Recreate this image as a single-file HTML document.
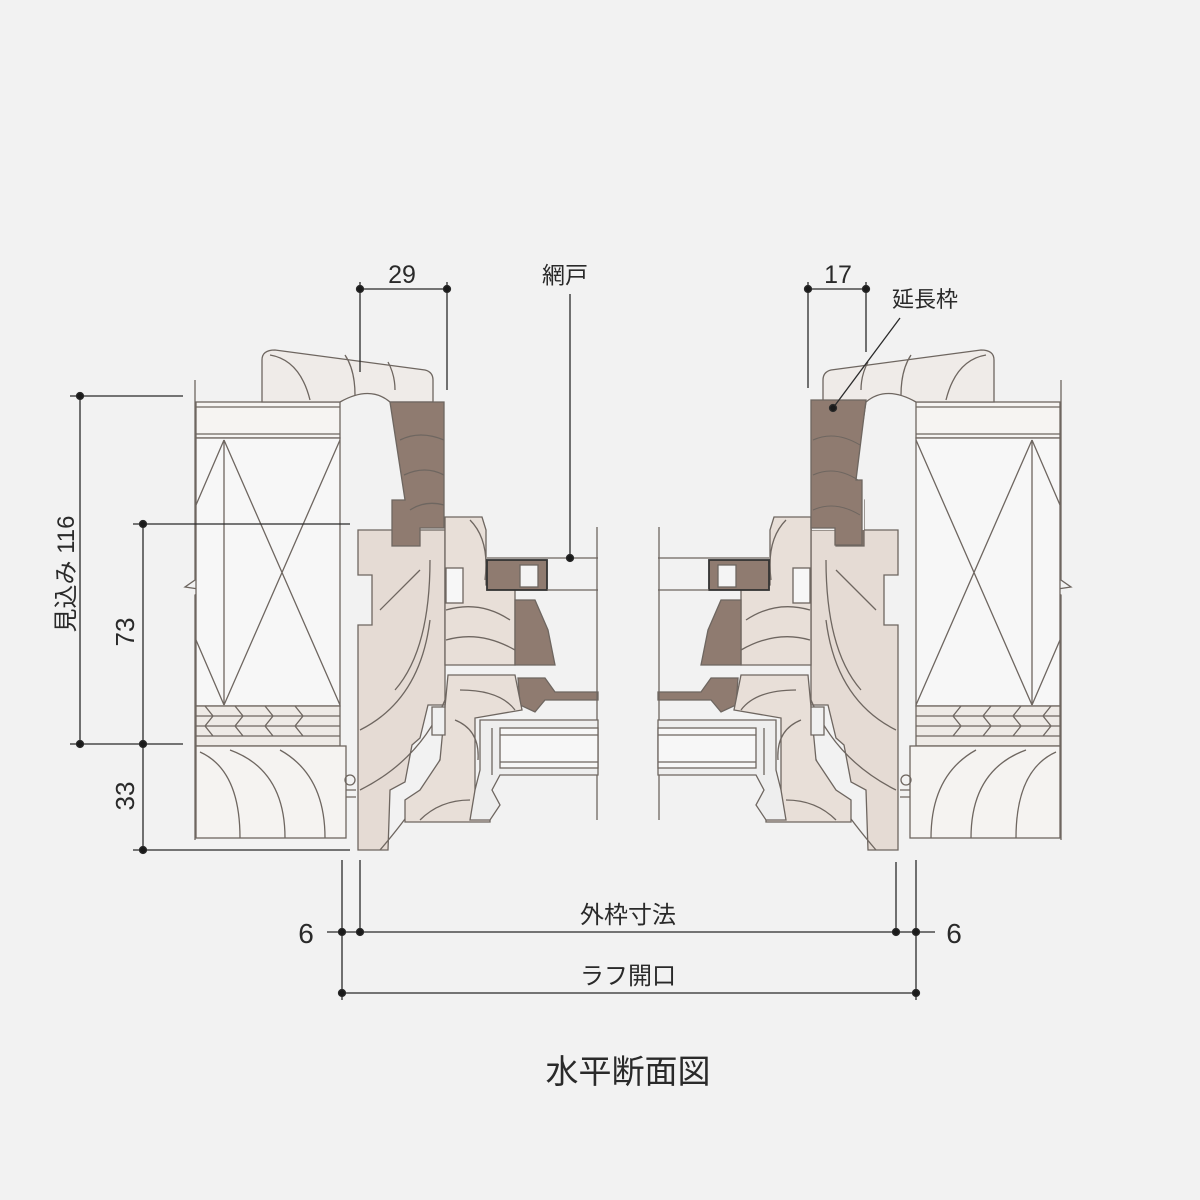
<!DOCTYPE html>
<html><head><meta charset="utf-8"><style>
html,body{margin:0;padding:0;background:#f2f2f2}
svg{display:block}
text{font-family:"Liberation Sans","Noto Sans CJK JP",sans-serif;fill:#2a2a2a}
</style></head><body>
<svg width="1200" height="1200" viewBox="0 0 1200 1200" xmlns="http://www.w3.org/2000/svg">
<rect width="1200" height="1200" fill="#f2f2f2"/>
<defs>
<g id="side" stroke="#6e6660" stroke-width="1.3" fill="none">
  <path d="M195 380 V580 L185 587 L205 590 L195 595 V840"/>
  <rect x="196" y="402" width="144" height="36" fill="#f6f4f2"/>
  <line x1="196" y1="407" x2="340" y2="407"/><line x1="196" y1="434" x2="340" y2="434"/>
  <rect x="196" y="438" width="144" height="268" fill="#f7f7f7"/>
  <line x1="224" y1="440" x2="224" y2="705"/>
  <path d="M224 440 L340 705 M340 440 L224 705 M224 440 L196 505 M224 705 L196 640"/>
  <rect x="196" y="706" width="144" height="40" fill="#eeeae6"/>
  <path d="M196 716H340M196 726H340M196 736H340M205 706l8 10-8 10 8 10M235 706l8 10-8 10 8 10M265 706l8 10-8 10 8 10M295 706l8 10-8 10 8 10"/>
  <rect x="196" y="746" width="150" height="92" fill="#f5f3f1"/>
  <path d="M240 838 Q240 770 200 752 M285 838 Q285 770 230 750 M325 838 Q325 775 280 750"/>
  <path d="M262 402 V360 Q262 350 275 350 L425 370 Q433 372 433 380 V402 H390 Q370 385 340 402 Z" fill="#efebe8"/>
  <path d="M310 400 Q300 360 270 355 M355 395 Q355 370 345 355 M395 390 Q395 375 388 362"/>
  <path d="M358 530 H445 V705 H428 L420 738 L412 745 L405 782 L390 790 L388 850 H358 V625 H372 V575 H358 Z" fill="#e5dbd4"/>
  <path d="M380 850 Q440 780 445 740 M360 790 Q420 760 445 700 M360 730 Q420 700 430 620 M380 610 Q400 590 420 570 M395 690 Q430 650 430 560"/>
  <path d="M390 402 H444 V528 H420 V546 H392 V500 H405 Z" fill="#8f7b70"/>
  <path d="M400 440 Q420 430 444 440 M404 475 Q425 465 444 475 M410 510 Q425 500 444 505"/>
  <path d="M445 517 H482 L486 530 V585 H515 V665 H445 Z" fill="#e8dfd8"/>
  <rect x="446" y="568" width="17" height="35" fill="#f7f7f7"/>
  <path d="M446 640 Q480 630 515 650 M446 610 Q480 600 510 620 M470 520 Q490 540 485 580"/>
  <path d="M515 600 H535 L548 630 L555 665 H515 Z" fill="#8f7b70"/>
  <path d="M518 678 H545 L555 692 H598 V700 H545 L535 712 L520 705 Z" fill="#8f7b70"/>
  <rect x="487" y="560" width="60" height="30" fill="#8f7b70" stroke="#333" stroke-width="1.8"/>
  <rect x="520" y="565" width="18" height="22" fill="#f4f4f4"/>
  <path d="M487 558 H598 M547 590 H598"/>
  <line x1="597" y1="527" x2="597" y2="820"/>
  <path d="M448 675 H515 L522 710 L475 718 L475 800 L490 815 V822 H405 V800 L420 790 L440 760 Z" fill="#e8dfd8"/>
  <path d="M460 690 Q500 690 515 710 M455 720 Q480 730 478 760 M420 820 Q440 800 470 800"/>
  <path d="M480 720 H598 V775 H500 L492 790 L500 805 L490 820 H470 L475 790 L480 770 Z" fill="#eeeeee"/>
  <rect x="500" y="728" width="98" height="40" fill="#f7f7f7"/>
  <path d="M500 735 H598 M500 762 H598 M492 728 V775"/>
  <path d="M432 707 H445 V735 H432 Z" fill="#f0f0f0"/>
  <path d="M345 780 a5 5 0 1 0 10 0 a5 5 0 1 0 -10 0 M346 790 h10 M346 797 h10"/>
</g>
</defs>
<use href="#side"/>
<g transform="translate(1256,0) scale(-1,1)"><use href="#side"/></g>
<rect x="812" y="400" width="52" height="130" fill="#f2f2f2"/>
<path d="M811 400 H866 L856 480 H862 V545 H835 V528 H811 Z" fill="#8f7b70" stroke="#6e6660" stroke-width="1.3"/>
<path d="M813 440 Q835 430 860 445 M813 475 Q835 465 858 480 M813 510 Q835 500 860 515" stroke="#6e6660" fill="none"/>

<g stroke="#2a2a2a" stroke-width="1.3" fill="#1a1a1a">
  <line x1="70" y1="396" x2="183" y2="396"/><line x1="70" y1="744" x2="183" y2="744"/>
  <line x1="80" y1="396" x2="80" y2="744"/>
  <line x1="133" y1="524" x2="350" y2="524"/><line x1="133" y1="850" x2="350" y2="850"/>
  <line x1="143" y1="524" x2="143" y2="850"/>
  <circle cx="80" cy="396" r="3.5"/><circle cx="80" cy="744" r="3.5"/>
  <circle cx="143" cy="524" r="3.5"/><circle cx="143" cy="744" r="3.5"/><circle cx="143" cy="850" r="3.5"/>
  <line x1="360" y1="282" x2="360" y2="372"/><line x1="447" y1="282" x2="447" y2="390"/><line x1="360" y1="289" x2="447" y2="289"/>
  <circle cx="360" cy="289" r="3.5"/><circle cx="447" cy="289" r="3.5"/>
  <line x1="808" y1="282" x2="808" y2="388"/><line x1="866" y1="282" x2="866" y2="352"/><line x1="808" y1="289" x2="866" y2="289"/>
  <circle cx="808" cy="289" r="3.5"/><circle cx="866" cy="289" r="3.5"/>
  <line x1="570" y1="294" x2="570" y2="558"/><circle cx="570" cy="558" r="3.5"/>
  <line x1="900" y1="318" x2="833" y2="408"/><circle cx="833" cy="408" r="3.5"/>
  <line x1="342" y1="860" x2="342" y2="1000"/><line x1="360" y1="860" x2="360" y2="935"/>
  <line x1="896" y1="862" x2="896" y2="935"/><line x1="916" y1="860" x2="916" y2="1000"/>
  <line x1="327" y1="932" x2="935" y2="932"/><line x1="342" y1="993" x2="916" y2="993"/>
  <circle cx="342" cy="932" r="3.5"/><circle cx="360" cy="932" r="3.5"/><circle cx="896" cy="932" r="3.5"/><circle cx="916" cy="932" r="3.5"/>
  <circle cx="342" cy="993" r="3.5"/><circle cx="916" cy="993" r="3.5"/>
</g>
<g font-size="25">
  <text x="402" y="283" text-anchor="middle">29</text>
  <text x="565" y="283" text-anchor="middle" font-size="23">網戸</text>
  <text x="838" y="283" text-anchor="middle">17</text>
  <text x="925" y="307" text-anchor="middle" font-size="22">延長枠</text>
  <text x="628" y="923" text-anchor="middle" font-size="24">外枠寸法</text>
  <text x="628" y="984" text-anchor="middle" font-size="24">ラフ開口</text>
  <text x="306" y="943" text-anchor="middle" font-size="28">6</text>
  <text x="954" y="943" text-anchor="middle" font-size="28">6</text>
  <text transform="translate(74,574) rotate(-90)" text-anchor="middle" font-size="24">見込み 116</text>
  <text transform="translate(134,632) rotate(-90)" text-anchor="middle" font-size="26">73</text>
  <text transform="translate(134,796) rotate(-90)" text-anchor="middle" font-size="26">33</text>
  <text x="628" y="1083" text-anchor="middle" font-size="33">水平断面図</text>
</g>
</svg>
</body></html>
